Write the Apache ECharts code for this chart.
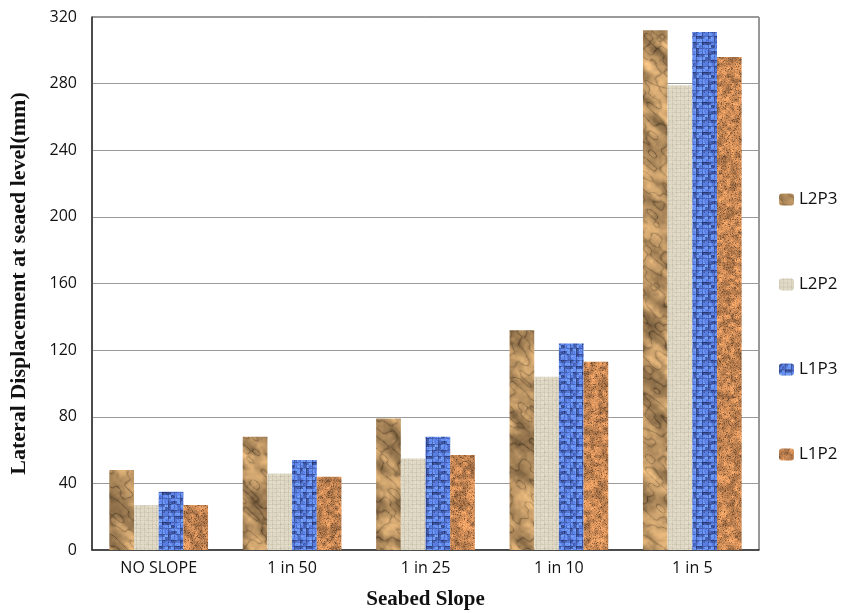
<!DOCTYPE html>
<html><head><meta charset="utf-8">
<script src="https://cdn.jsdelivr.net/npm/echarts@6/dist/echarts.min.js"></script>
<style>html,body{margin:0;padding:0;background:#fff}#c{width:856px;height:613px}</style>
</head><body><div id="c"></div>
<script>
const categories = ['NO SLOPE', '1 in 50', '1 in 25', '1 in 10', '1 in 5'];
const seriesNames = ['L2P3', 'L2P2', 'L1P3', 'L1P2'];
const L2P3 = [48, 68, 79, 132, 312];
const L2P2 = [27, 46, 55, 104, 279];
const L1P3 = [35, 54, 68, 124, 311];
const L1P2 = [27, 44, 57, 113, 296];
const yTicks = { min: 0, max: 320, interval: 40 };

function h(x, y, s) { let n = Math.sin(x * 12.9898 + y * 78.233 + s * 37.719) * 43758.5453; return n - Math.floor(n); }
function vnoise(x, y, s) {
  const x0 = Math.floor(x), y0 = Math.floor(y), fx = x - x0, fy = y - y0;
  const sx = fx * fx * (3 - 2 * fx), sy = fy * fy * (3 - 2 * fy);
  const a = h(x0, y0, s), b = h(x0 + 1, y0, s), c = h(x0, y0 + 1, s), d = h(x0 + 1, y0 + 1, s);
  return a + (b - a) * sx + (c - a) * sy + (a - b - c + d) * sx * sy;
}
function makeTile(w, ht, fn) {
  const cv = document.createElement('canvas'); cv.width = w; cv.height = ht;
  const ctx = cv.getContext('2d'); const img = ctx.createImageData(w, ht);
  for (let y = 0; y < ht; y++) for (let x = 0; x < w; x++) {
    const [r, g, b] = fn(x, y); const i = (y * w + x) * 4;
    img.data[i] = r; img.data[i + 1] = g; img.data[i + 2] = b; img.data[i + 3] = 255;
  }
  ctx.putImageData(img, 0, 0); return cv;
}
function clamp(v) { return Math.max(0, Math.min(255, Math.round(v))); }
// crumpled brown paper (one canvas-sized texture, no visible tiling)
const paper = makeTile(856, 613, (x, y) => {
  const u = (x * 0.75 + y * 0.66), v = (y * 0.75 - x * 0.66);
  const n1 = vnoise(u / 22, v / 9, 1);
  const n2 = vnoise(u / 10, v / 5, 2);
  const n3 = vnoise(x / 3, y / 3, 3);
  const ridge = 1 - Math.abs(n2 - 0.5) * 2;
  let f = 0.5 + n1 * 0.5 + n3 * 0.12 - Math.pow(ridge, 8) * 0.25 + Math.pow(1 - ridge, 3) * 0.08;
  return [clamp(212 * f + 12), clamp(172 * f + 6), clamp(120 * f)];
});
// linen
const linen = makeTile(24, 24, (x, y) => {
  let v = 224 + (h(x, y, 3) - 0.5) * 16;
  if (x % 4 === 0) v -= 14; if (y % 4 === 0) v -= 12;
  return [clamp(v), clamp(v - 6), clamp(v - 26)];
});
// blue woven
const woven = makeTile(30, 30, (x, y) => {
  const cell = h(Math.floor(x / 3), Math.floor(y / 3), 5);
  const n = h(x, y, 6);
  let f = 0.6 + cell * 0.55 + (n - 0.5) * 0.25;
  if ((x % 6 === 0) || (y % 6 === 0)) f *= 0.72;
  return [clamp(100 * f), clamp(140 * f), clamp(220 * Math.min(1.12, f + 0.12))];
});
// cork
const cork = makeTile(856, 613, (x, y) => {
  const n = h(x, y, 8), mm = vnoise(x / 4, y / 4, 9);
  let f = 0.72 + mm * 0.4 + (n - 0.5) * 0.3;
  if (n > 0.93) f *= 0.55;
  return [clamp(218 * f), clamp(148 * f), clamp(92 * f)];
});
const patterns = [paper, linen, woven, cork];
const values = [L2P3, L2P2, L1P3, L1P2];

const chart = echarts.init(document.getElementById('c'), null, { renderer: 'canvas' });
chart.setOption({
  animation: false,
  grid: { left: 92, right: 97, top: 17, bottom: 63, outerBoundsMode: 'none', containLabel: false,
    show: true, borderColor: '#333', borderWidth: 1, backgroundColor: 'transparent' },
  legend: {
    orient: 'vertical', left: 774, top: 186, itemGap: 68, itemWidth: 15, itemHeight: 12,
    textStyle: { fontFamily: 'Open Sans', fontSize: 17, color: '#111' },
    data: seriesNames
  },
  xAxis: {
    type: 'category', data: categories,
    name: 'Seabed Slope', nameLocation: 'middle', nameGap: 39,
    nameTextStyle: { fontFamily: 'Liberation Serif', fontWeight: 'bold', fontSize: 21, color: '#111' },
    axisLine: { lineStyle: { color: '#333', width: 1.5 } }, axisTick: { show: false },
    axisLabel: { fontFamily: 'Open Sans', fontSize: 16, color: '#111', margin: 10 }
  },
  yAxis: {
    type: 'value', min: yTicks.min, max: yTicks.max, interval: yTicks.interval,
    name: 'Lateral Displacement at seaed level(mm)', nameLocation: 'middle', nameGap: 62,
    nameTextStyle: { fontFamily: 'Liberation Serif', fontWeight: 'bold', fontSize: 22, color: '#111' },
    axisLine: { show: true, lineStyle: { color: '#333', width: 1.5 } }, axisTick: { show: false },
    axisLabel: { fontFamily: 'Open Sans', fontSize: 16, color: '#111', margin: 15 },
    splitLine: { lineStyle: { color: '#9a9a9a', width: 1.2 } }
  },
  series: seriesNames.map((n, i) => ({
    name: n, type: 'bar', data: values[i], barGap: '0%', barCategoryGap: '26%',
    itemStyle: { color: { image: patterns[i], repeat: 'repeat' } }
  }))
});
</script></body></html>
